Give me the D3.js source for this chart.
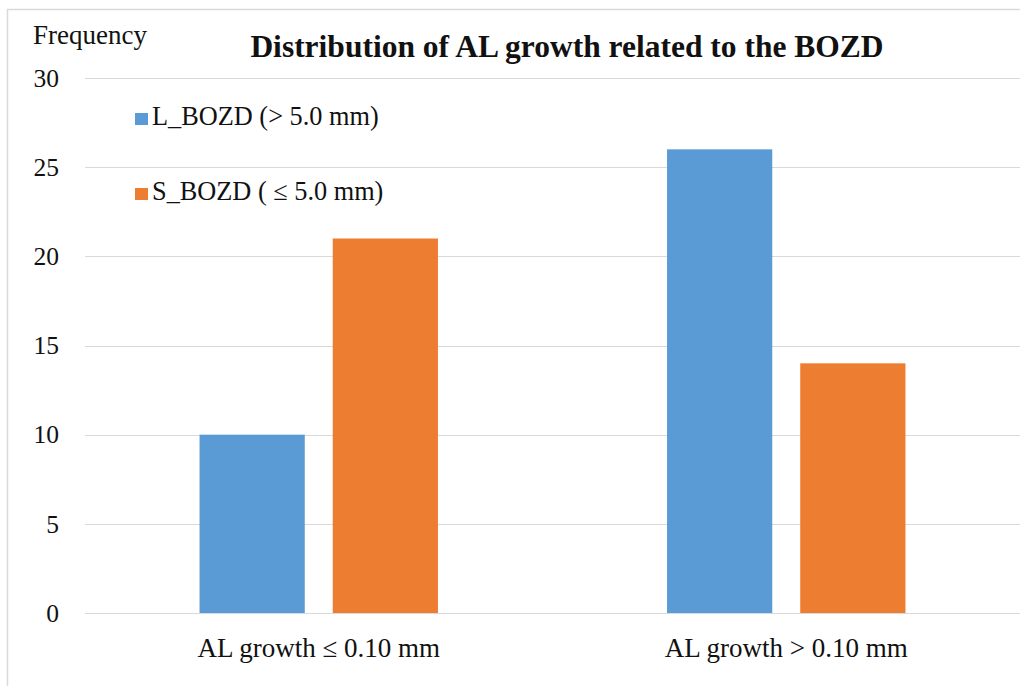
<!DOCTYPE html>
<html>
<head>
<meta charset="utf-8">
<script src="https://cdnjs.cloudflare.com/ajax/libs/d3/7.8.5/d3.min.js"></script>
<style>
  html, body { margin: 0; padding: 0; background: #fff; }
  svg { display: block; }
  text { font-family: "Liberation Serif", "DejaVu Serif", serif; fill: #111; }
</style>
</head>
<body>
<svg id="chart" width="1020" height="686"></svg>
<script>
// Data
const categories = ["AL growth \u2264 0.10 mm", "AL growth > 0.10 mm"];
const seriesNames = ["L_BOZD (> 5.0 mm)", "S_BOZD ( \u2264 5.0 mm)"];
const lBozd = [10, 26];
const sBozd = [21, 14];
const yTicks = [0, 5, 10, 15, 20, 25, 30];
const colors = ["#5B9BD5", "#ED7D31"];

const seriesValues = [lBozd, sBozd];
const rows = categories.map((c, i) => ({
  category: c,
  values: seriesNames.map((s, j) => ({ key: s, value: seriesValues[j][i], idx: j }))
}));

const svg = d3.select("#chart");
const W = 1020, H = 686;
const plot = { left: 85, right: 1020, top: 78, bottom: 613 };
const serif = "Liberation Serif, serif";

// Outer frame
svg.append("rect")
  .attr("x", 7.5).attr("y", 9.5)
  .attr("width", W + 10).attr("height", H + 10)
  .attr("fill", "none").attr("stroke", "#d9d9d9").attr("stroke-width", 1.5);

const y = d3.scaleLinear().domain([0, 30]).range([plot.bottom, plot.top]);
const x0 = d3.scaleBand().domain(categories).range([plot.left, plot.right]).padding(0);
const bw = x0.bandwidth();
const x1 = d3.scaleBand().domain(seriesNames)
  .range([bw * 0.245, bw * 0.755]).paddingInner(0.21).paddingOuter(0);

// Gridlines
svg.append("g")
  .selectAll("line")
  .data(yTicks)
  .join("line")
  .attr("x1", plot.left).attr("x2", plot.right)
  .attr("y1", d => Math.round(y(d)) + 0.5).attr("y2", d => Math.round(y(d)) + 0.5)
  .attr("stroke", "#d9d9d9").attr("stroke-width", 1.2);

// Y axis labels
const yAxis = d3.axisLeft(y).tickValues(yTicks).tickSize(0).tickPadding(0);
const yg = svg.append("g").attr("transform", "translate(59,0)").call(yAxis);
yg.select(".domain").remove();
yg.selectAll("text")
  .attr("font-size", 25.5)
  .attr("font-family", serif)
  .attr("fill", "#111");

// Bars
svg.append("g")
  .selectAll("g")
  .data(rows)
  .join("g")
  .attr("transform", d => `translate(${x0(d.category)},0)`)
  .selectAll("rect")
  .data(d => d.values)
  .join("rect")
  .attr("x", d => x1(d.key))
  .attr("width", x1.bandwidth())
  .attr("y", d => y(d.value))
  .attr("height", d => y(0) - y(d.value))
  .attr("fill", d => colors[d.idx]);

// X axis labels
const xAxis = d3.axisBottom(x0).tickSize(0).tickPadding(0);
const xg = svg.append("g").attr("transform", `translate(0,${plot.bottom})`).call(xAxis);
xg.select(".domain").remove();
xg.selectAll("text")
  .attr("dy", null)
  .attr("y", 44)
  .attr("font-size", 27)
  .attr("font-family", serif)
  .attr("fill", "#111");

// Legend
const legend = svg.append("g");
const legendRows = [125, 200];
seriesNames.forEach((name, i) => {
  legend.append("rect")
    .attr("x", 135).attr("y", legendRows[i] - 12)
    .attr("width", 13).attr("height", 12)
    .attr("fill", colors[i]);
  legend.append("text")
    .attr("x", 152).attr("y", legendRows[i])
    .attr("font-size", 26.3)
    .text(name);
});

// Title and axis caption
svg.append("text")
  .attr("x", 567).attr("y", 57)
  .attr("text-anchor", "middle")
  .attr("font-size", 31.5).attr("font-weight", "bold")
  .text("Distribution of AL growth related to the BOZD");

svg.append("text")
  .attr("x", 33).attr("y", 44)
  .attr("font-size", 27)
  .text("Frequency");
</script>
</body>
</html>
